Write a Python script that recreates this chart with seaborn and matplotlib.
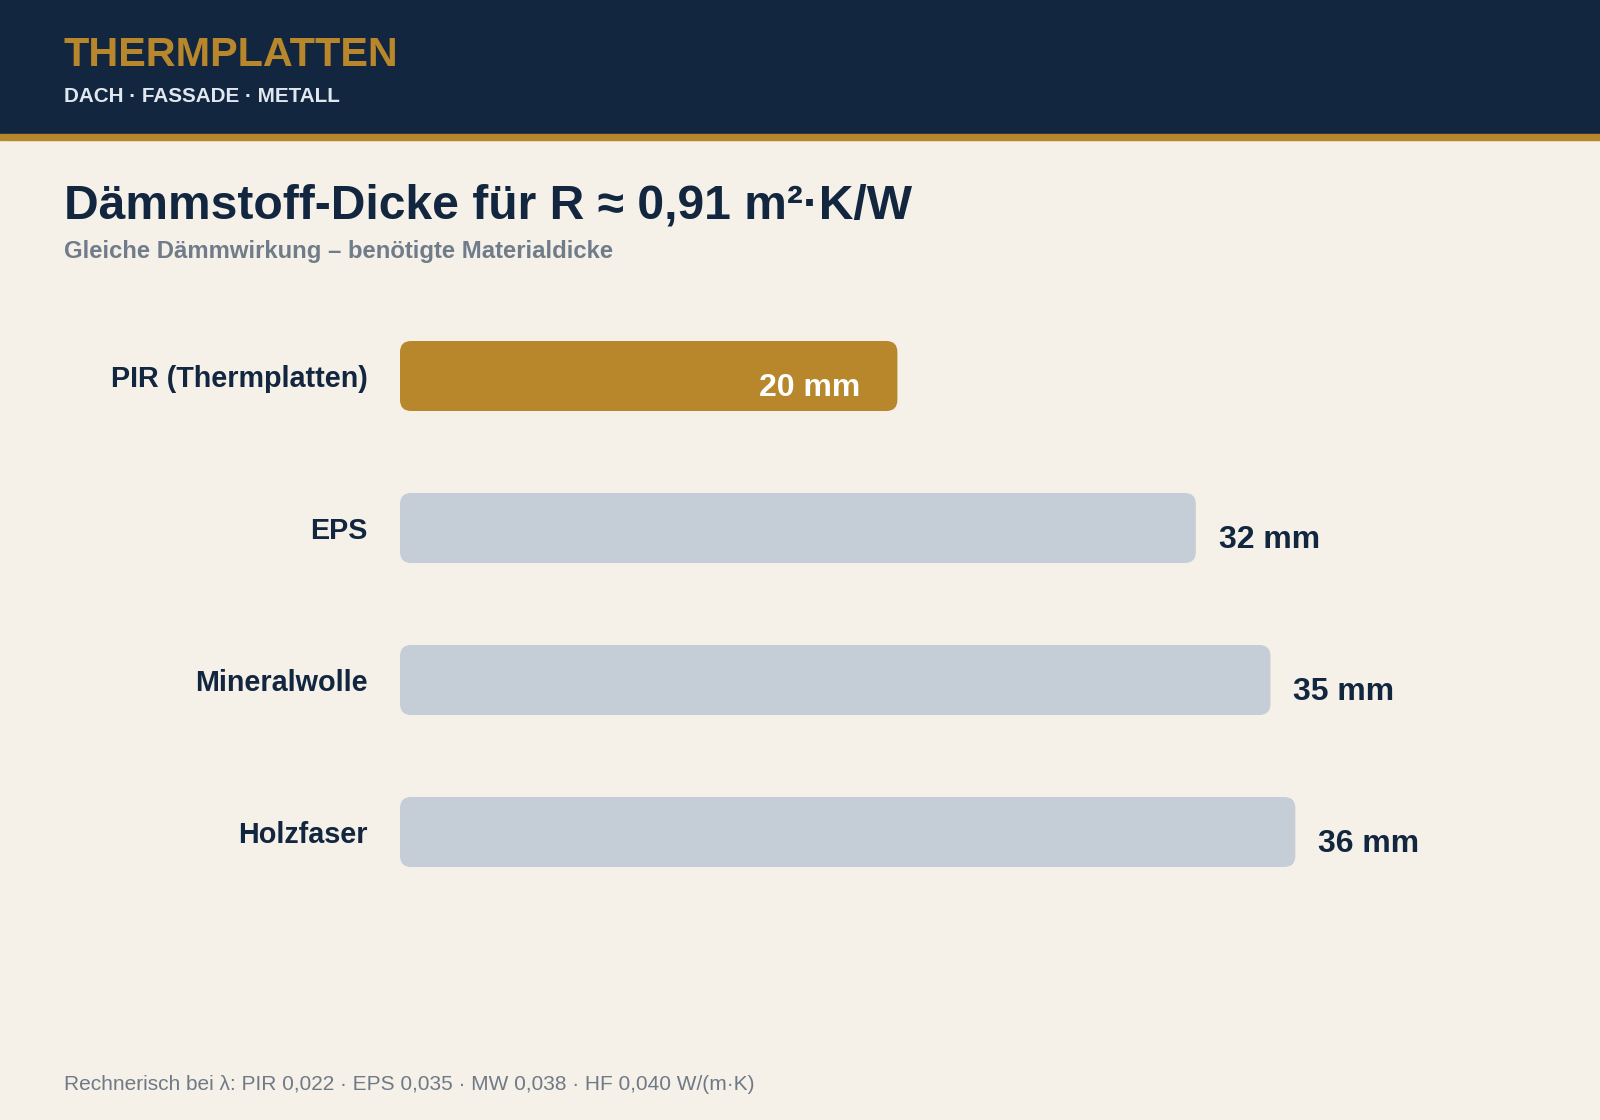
import matplotlib
matplotlib.use("Agg")
import matplotlib.pyplot as plt
from matplotlib.patches import Rectangle, FancyBboxPatch
from matplotlib.transforms import IdentityTransform
import seaborn as sns
import pandas as pd

# data
materials = ["PIR (Thermplatten)", "EPS", "Mineralwolle", "Holzfaser"]
thickness_mm = [20, 32, 35, 36]
bar_colors = ["#b8872c", "#c5cdd6", "#c5cdd6", "#c5cdd6"]

brand = "THERMPLATTEN"
tagline = "DACH · FASSADE · METALL"
title = "Dämmstoff-Dicke für R ≈ 0,91 m²·K/W"
subtitle = "Gleiche Dämmwirkung – benötigte Materialdicke"
footnote = "Rechnerisch bei λ: PIR 0,022 · EPS 0,035 · MW 0,038 · HF 0,040 W/(m·K)"

navy = "#12263f"
gold = "#b8872c"
bg = "#f5f0e8"

sns.set_theme(style="white")
plt.rcParams["font.family"] = ["Liberation Sans", "DejaVu Sans"]

W, H = 1600, 1120
fig = plt.figure(figsize=(16, 11.2), dpi=100, facecolor=bg)

# header band
fig.patches.append(Rectangle((0, 1 - 134 / H), 1, 134 / H, transform=fig.transFigure,
                             color=navy, zorder=0))
fig.patches.append(Rectangle((0, 1 - 140 / H), 1, 6 / H, transform=fig.transFigure,
                             color=gold, zorder=0))

def ftext(x, y, s, **kw):
    fig.text(x / W, 1 - y / H, s, va="baseline", ha="left", **kw)

ftext(64, 66, brand, fontsize=29.8, fontweight="bold", color=gold)
ftext(64, 102, tagline, fontsize=14.9, fontweight="bold", color="#e1e7ef")
ftext(64, 219, title, fontsize=34.6, fontweight="bold", color=navy)
ftext(64, 258, subtitle, fontsize=17.2, fontweight="bold", color="#707c89")
ftext(64, 1090, footnote, fontsize=15.05, color="#6f7a86")

# chart axes: bars start at x=400px, 24.87 px per mm, 152 px per row
px_per_mm = 24.87
xmax = 48
row = 152
ax = fig.add_axes([400 / W, 1 - (832 + row / 2) / H, xmax * px_per_mm / W, 4 * row / H])
ax.set_facecolor("none")

df = pd.DataFrame({"Material": materials, "Dicke": thickness_mm})
sns.barplot(data=df, x="Dicke", y="Material", hue="Material", palette=bar_colors,
            width=70 / row, legend=False, ax=ax, saturation=1)
ax.set_xlim(0, xmax)
ax.set_ylim(3.5, -0.5)
ax.set_xlabel("")
ax.set_ylabel("")
ax.set_xticks([])
sns.despine(ax=ax, left=True, bottom=True)
ax.tick_params(axis="y", length=0, pad=23.5)
for lab in ax.get_yticklabels():
    lab.set_fontsize(20.7)
    lab.set_fontweight("bold")
    lab.set_color(navy)

# rounded bars: replace each rectangle with a rounded box at the same place
fig.canvas.draw()
for p in list(ax.patches):
    bb = p.get_window_extent()
    rb = FancyBboxPatch((bb.x0, bb.y0), bb.width, bb.height,
                        boxstyle="round,pad=0,rounding_size=11",
                        transform=IdentityTransform(), facecolor=p.get_facecolor(),
                        edgecolor="none", zorder=2, clip_on=False)
    ax.add_artist(rb)
    p.set_visible(False)

# value labels
for i, v in enumerate(thickness_mm):
    if i == 0:
        ax.annotate(f"{v} mm", (v, i), xytext=(-26.5, -8.3), textcoords="offset points",
                    ha="right", va="center", fontsize=23, fontweight="bold", color="white",
                    zorder=5)
    else:
        ax.annotate(f"{v} mm", (v, i), xytext=(16.5, -8.3), textcoords="offset points",
                    ha="left", va="center", fontsize=23, fontweight="bold", color=navy,
                    zorder=5)

fig.savefig("out.png", dpi=100, facecolor=bg)
